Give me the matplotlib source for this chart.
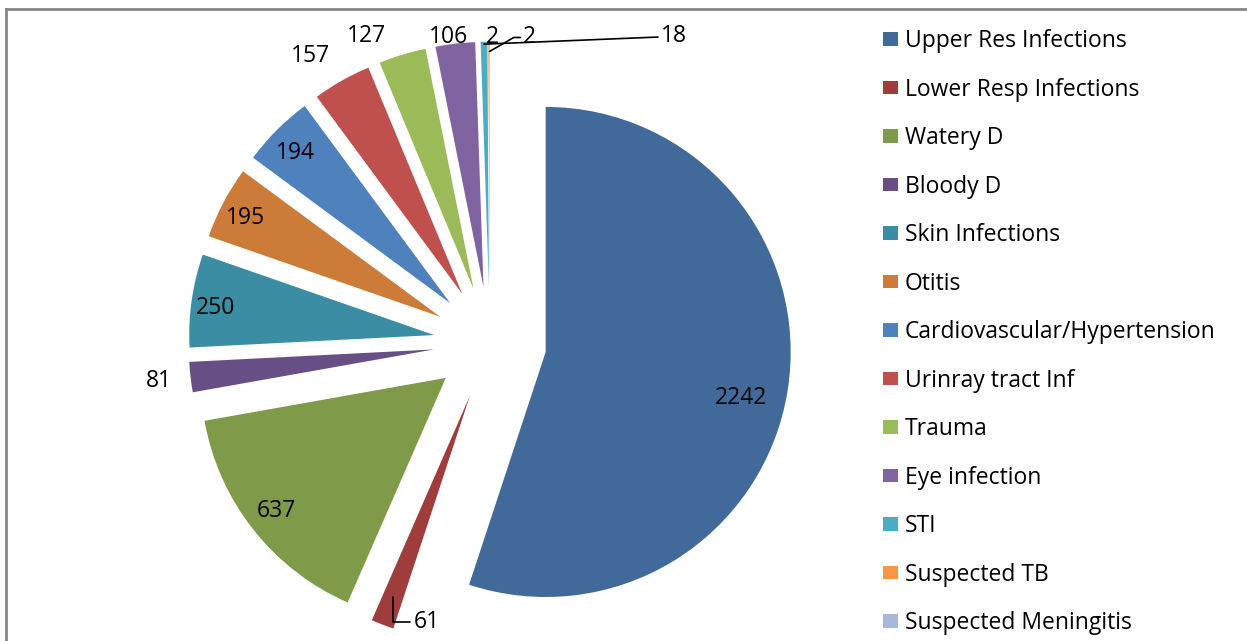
import matplotlib
matplotlib.use("Agg")
import matplotlib.pyplot as plt
import numpy as np
from matplotlib.lines import Line2D

plt.rcParams['font.family'] = ['Open Sans', 'DejaVu Sans']

categories = ["Upper Res Infections", "Lower Resp Infections", "Watery D", "Bloody D",
              "Skin Infections", "Otitis", "Cardiovascular/Hypertension",
              "Urinray tract Inf", "Trauma", "Eye infection", "STI",
              "Suspected TB", "Suspected Meningitis"]
values = [2242, 61, 637, 81, 250, 195, 194, 157, 127, 106, 18, 2, 2]
colors = ["#416A9B", "#9E3D3B", "#7F9A48", "#674F86", "#3B8DA3", "#CC7B38",
          "#4F81BD", "#C0504D", "#9BBB59", "#8064A2", "#4BACC6", "#F79646", "#A7B9DA"]

# label placement: distance (in radii) from wedge centre and angular shift (deg)
label_r = [0.82, 0.94, 0.88, 1.13, 0.90, 0.89, 0.88, 1.15, 1.12, 1.03, 1.27, 1.02, 1.03]
label_shift = [-4, 10, 0, 0, 1, 1, 1, 3, 6, 1.3, -37.6, -0.8, -9.2]

W, H = 1247, 641
fig = plt.figure(figsize=(W / 100, H / 100), dpi=100)

# axes sized so that 1 data unit ~ 245 px in both directions
ax = fig.add_axes([0, 0, 860 / W, 1])
ax.axis("off")

wedges, _ = ax.pie(values, colors=colors, startangle=90, counterclock=False,
                   explode=[0.23] * len(values), radius=1.0,
                   wedgeprops=dict(linewidth=0))
ax.set_xlim(-2.0, 1.51)
ax.set_ylim(-1.216, 1.4)
ax.set_aspect("auto")

fs = 16.5
line_kw = dict(arrowstyle="-", color="black", lw=1.2, shrinkA=0, shrinkB=0)
for i, w in enumerate(wedges):
    mid = np.deg2rad((w.theta1 + w.theta2) / 2)
    ang = mid + np.deg2rad(label_shift[i])
    cx, cy = w.center
    tx, ty = cx + label_r[i] * np.cos(ang), cy + label_r[i] * np.sin(ang)
    txt = str(values[i])
    if i == 1:
        px, py = cx + 0.88 * np.cos(mid), cy + 0.88 * np.sin(mid)
        ax.annotate(txt, xy=(px, py), xytext=(tx, ty), fontsize=fs,
                    ha="center", va="center",
                    arrowprops=dict(connectionstyle="angle,angleA=0,angleB=90,rad=0", **line_kw))
    elif i == 10:
        px, py = cx + 0.99 * np.cos(mid), cy + 0.99 * np.sin(mid)
        ax.annotate(txt, xy=(px, py), xytext=(tx, ty), fontsize=fs,
                    ha="center", va="center", arrowprops=dict(**line_kw))
    elif i == 12:
        px, py = cx + 0.96 * np.cos(mid), cy + 0.96 * np.sin(mid)
        ax.annotate(txt, xy=(px, py), xytext=(tx, ty), fontsize=fs,
                    ha="center", va="center",
                    arrowprops=dict(connectionstyle="angle,angleA=0,angleB=30,rad=0", **line_kw))
    else:
        ax.text(tx, ty, txt, fontsize=fs, ha="center", va="center")

fig.legend(wedges, categories, loc="upper left", bbox_to_anchor=(883 / W, 1 - 29 / H),
           frameon=False, fontsize=fs, handlelength=0.65, handleheight=0.52,
           handletextpad=0.3, labelspacing=1.07, borderaxespad=0, borderpad=0)

# chart-area border (top and left only visible)
fig.add_artist(Line2D([6 / W, 1], [1 - 9 / H, 1 - 9 / H], color="#868686", lw=2))
fig.add_artist(Line2D([6 / W, 6 / W], [0, 1 - 9 / H], color="#868686", lw=2))

fig.savefig("out.png", dpi=100)
